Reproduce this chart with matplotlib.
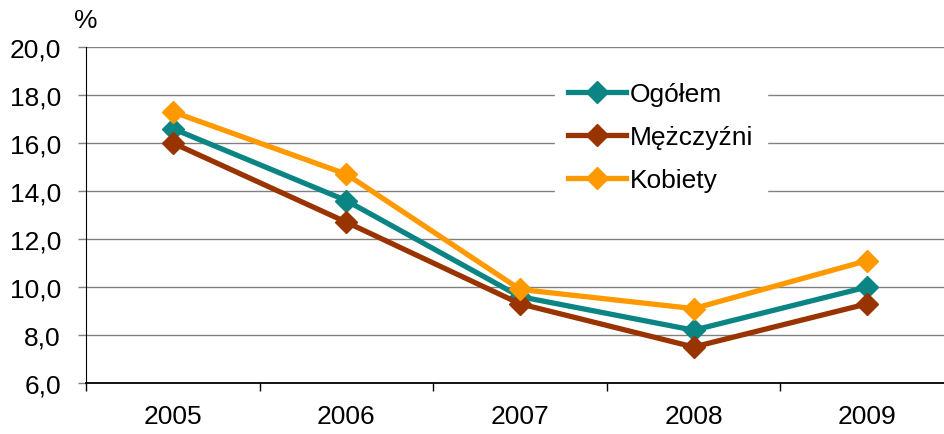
import matplotlib.pyplot as plt
from matplotlib.ticker import FuncFormatter

plt.rcParams["font.family"] = ["Liberation Sans", "DejaVu Sans"]

years = ["2005", "2006", "2007", "2008", "2009"]
ogolem = [16.6, 13.6, 9.6, 8.2, 10.0]
mezczyzni = [16.0, 12.7, 9.3, 7.5, 9.3]
kobiety = [17.3, 14.7, 9.9, 9.1, 11.1]

series = [
    ("Ogółem", ogolem, "#0b8583"),
    ("Mężczyźni", mezczyzni, "#993300"),
    ("Kobiety", kobiety, "#ff9900"),
]

fig = plt.figure(figsize=(9.45, 4.35), dpi=100)
ax = fig.add_axes([86 / 945, 51 / 435, 868 / 945, 336 / 435])

x = list(range(len(years)))
for name, vals, col in series:
    ax.plot(
        x, vals,
        color=col,
        linewidth=3.8,
        marker="D",
        markersize=11.5,
        markerfacecolor=col,
        markeredgecolor=col,
        label=name,
    )

ax.set_xlim(-0.5, len(years) - 0.5)
ax.set_ylim(6, 20)
ax.set_yticks(range(6, 21, 2))
ax.yaxis.set_major_formatter(FuncFormatter(lambda v, p: f"{v:.1f}".replace(".", ",")))
ax.grid(axis="y", color="#808080", linewidth=1)
ax.set_axisbelow(True)

# categories centred, ticks between them
ax.set_xticks(x)
ax.set_xticklabels(years)
ax.set_xticks([i - 0.5 for i in range(len(years) + 1)], minor=True)
ax.tick_params(axis="x", which="major", length=0, pad=15, labelsize=19)
ax.tick_params(axis="x", which="minor", length=6, color="black", width=1)
ax.tick_params(axis="y", length=6, color="#808080", width=1, labelsize=19, pad=12)

for s in ["top", "right"]:
    ax.spines[s].set_visible(False)
ax.spines["left"].set_color("black")
ax.spines["bottom"].set_color("black")
ax.spines["bottom"].set_linewidth(1.3)

ax.text(0.0, 1.045, "%", transform=ax.transAxes, fontsize=19, ha="center", va="bottom")

leg = ax.legend(
    loc="upper left",
    bbox_to_anchor=(0.525, 0.975),
    fontsize=19,
    frameon=True,
    fancybox=False,
    edgecolor="white",
    facecolor="white",
    framealpha=1,
    handlelength=2.2,
    handletextpad=0.15,
    labelspacing=0.73,
    borderpad=0.5,
)

plt.savefig("out.png", dpi=100)
